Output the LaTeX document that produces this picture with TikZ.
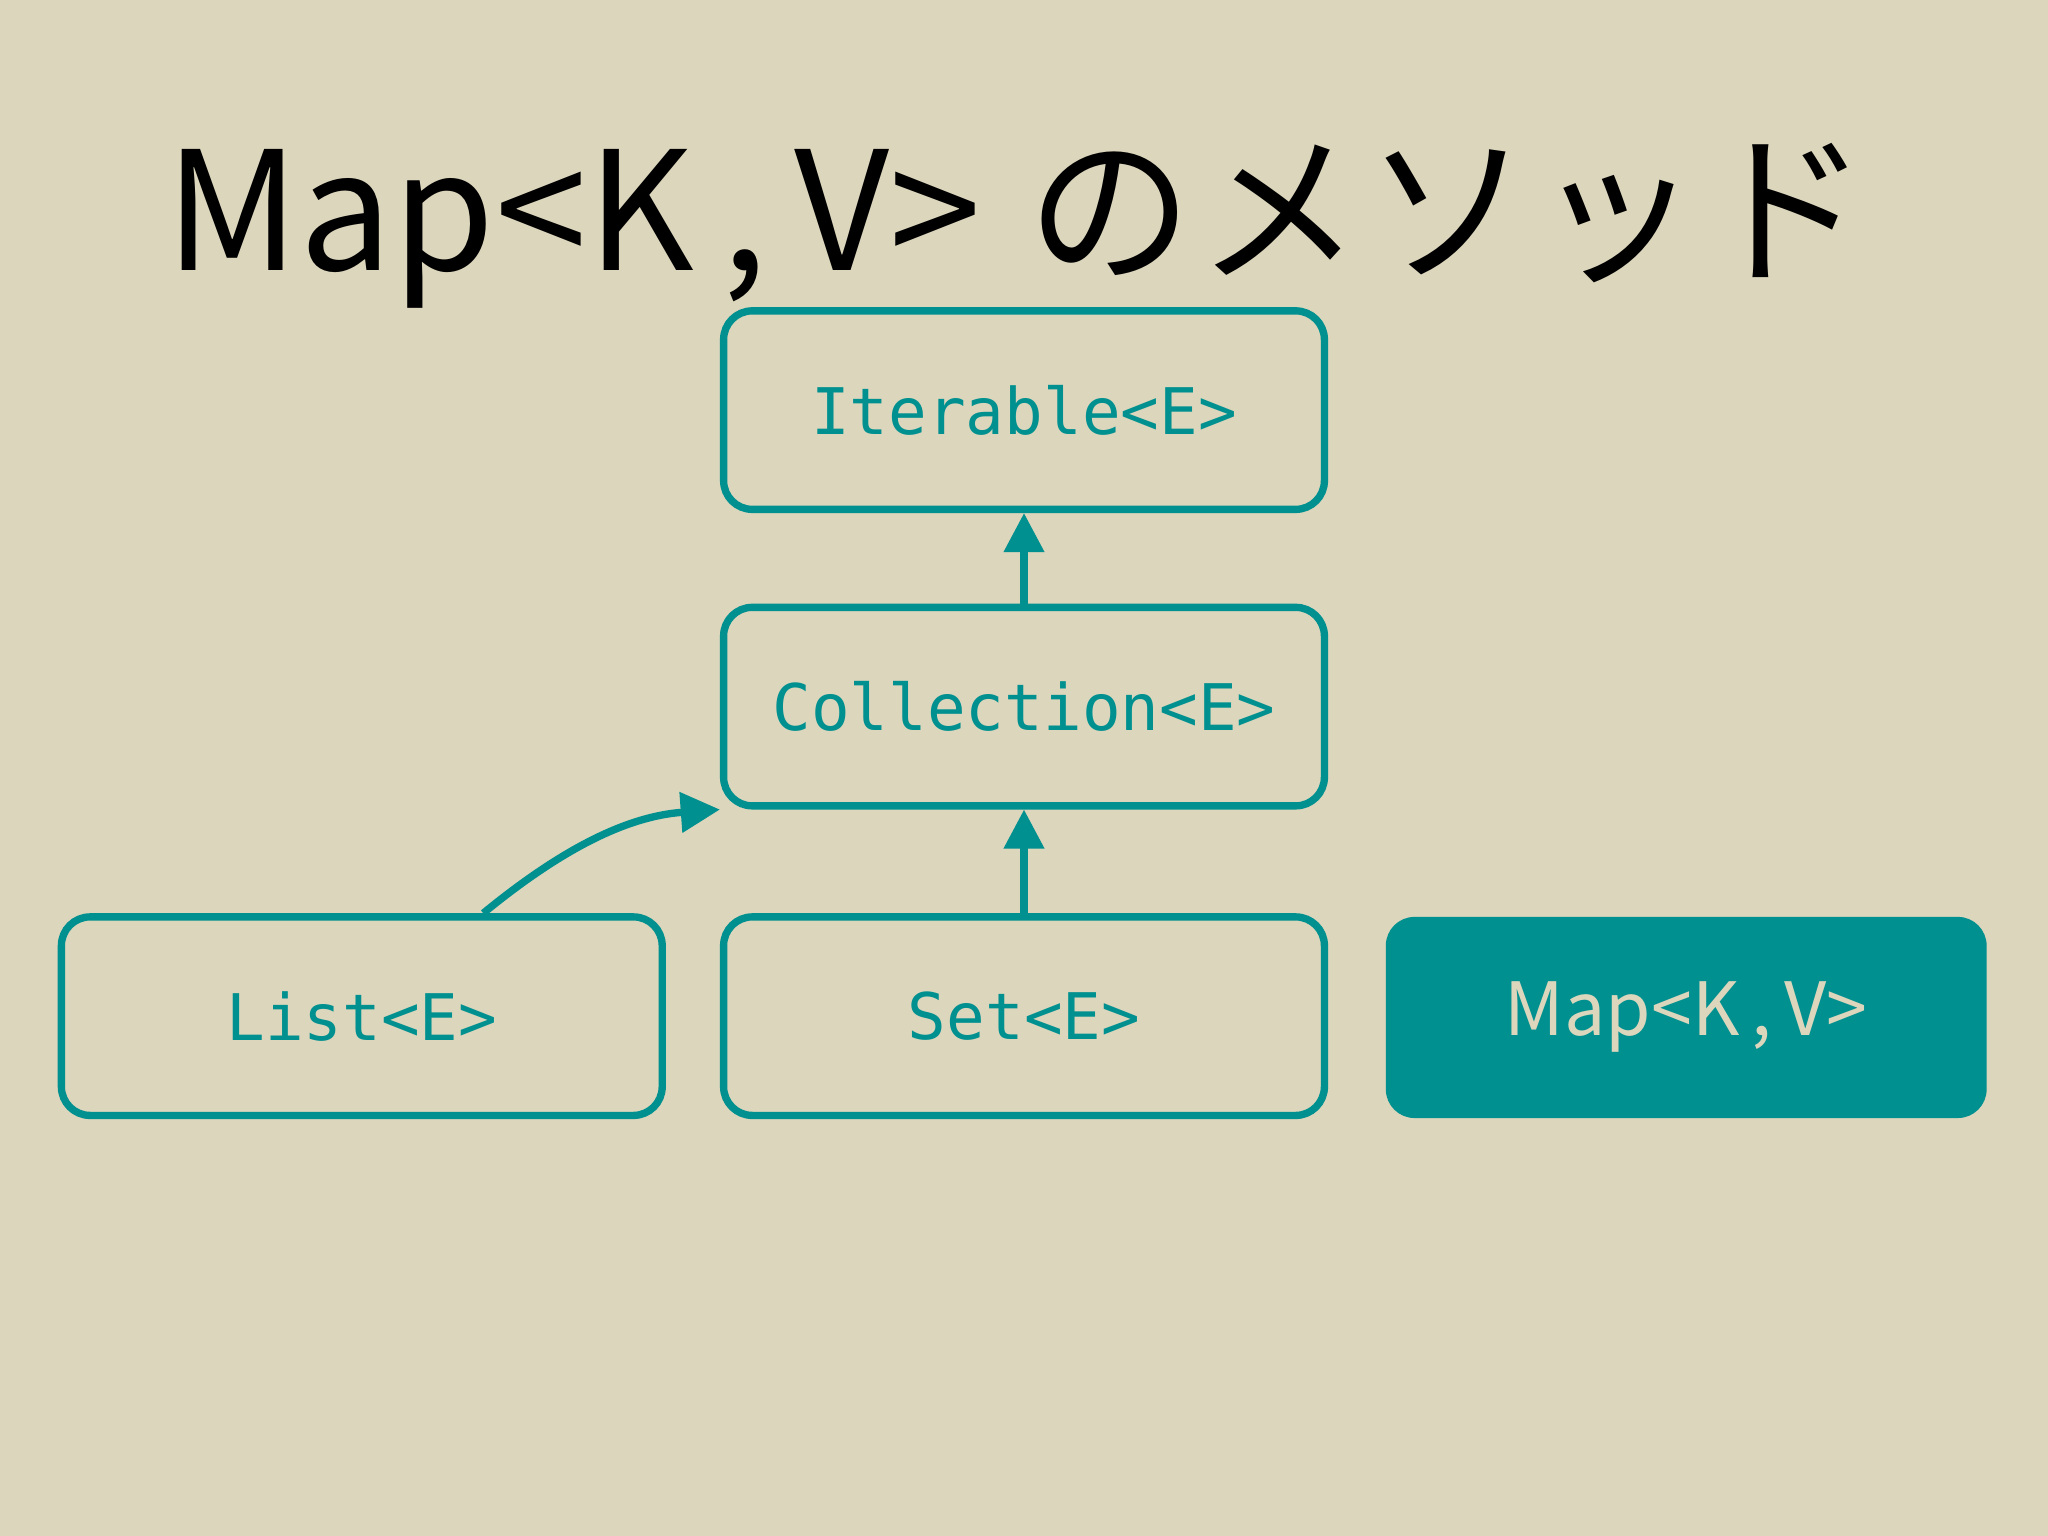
\documentclass[tikz,border=0pt]{standalone}
\usepackage{fontspec}
\setmainfont{Noto Sans CJK JP}
\setmonofont{DejaVu Sans Mono}
\usetikzlibrary{arrows.meta}
\definecolor{bg}{HTML}{DCD6BC}
\definecolor{teal1}{HTML}{00908F}
\definecolor{pale}{HTML}{DCD6BC}
\tikzset{
 box/.style={draw=teal1,line width=1.6pt,rounded corners=0.22cm,minimum width=4.6cm,minimum height=1.52cm,font=\ttfamily\fontsize{14}{17}\selectfont,text=teal1},
 fbox/.style={fill=teal1,rounded corners=0.22cm,minimum width=4.6cm,minimum height=1.54cm,font=\fontsize{16}{19}\selectfont,text=pale},
 conn/.style={draw=teal1,line width=1.6pt,-{Triangle[width=0.3cm,length=0.3cm]}}
}
\begin{document}
\begin{tikzpicture}
\fill[bg] (0,0) rectangle (15.68,-11.76);
\useasboundingbox (0,0) rectangle (15.68,-11.76);
\node[anchor=base,font=\fontsize{36}{40}\selectfont] (title) at (7.79,-2.07) {Map<K\,,\,V>\hspace{0.35cm}の\hspace{0.03cm}メ\hspace{0.03cm}ソ\hspace{0.03cm}ッ\hspace{0.03cm}ド};
\node[box] (it) at (7.84,-3.14) {Iterable<E>};
\node[box] (co) at (7.84,-5.41) {Collection<E>};
\node[box] (li) at (2.77,-7.78) {List<E>};
\node[box] (se) at (7.84,-7.78) {Set<E>};
\node[fbox] (ma) at (12.91,-7.79) {Map<K\,,\,V>};
\draw[conn] (co.north) -- (it.south);
\draw[conn] (se.north) -- (co.south);
\draw[conn] ([xshift=0.93cm]li.north) .. controls (4.3,-6.5) and (4.8,-6.25) .. (co.south west);
\end{tikzpicture}
\end{document}
